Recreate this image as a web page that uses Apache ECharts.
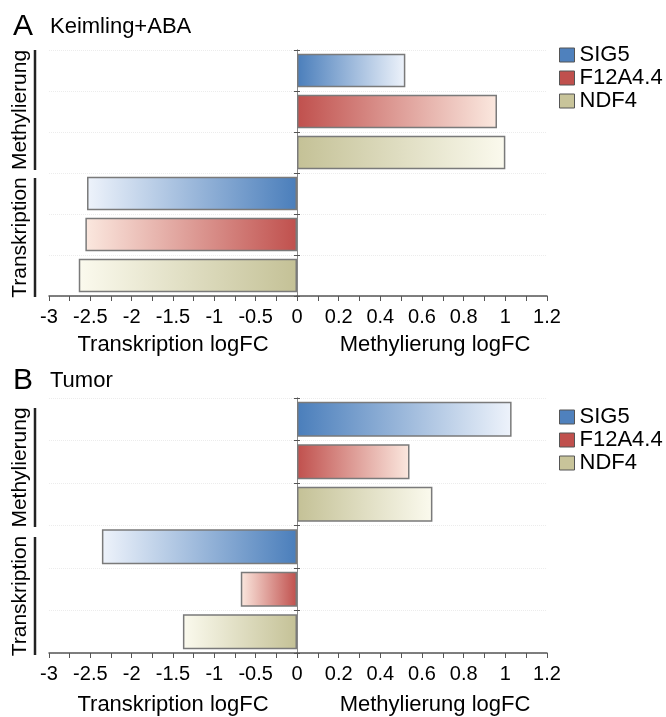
<!DOCTYPE html>
<html>
<head>
<meta charset="utf-8">
<script src="https://cdn.jsdelivr.net/npm/echarts@6/dist/echarts.min.js"></script>
<style>
html,body{margin:0;padding:0;background:#fff;}
#chart{width:666px;height:717px;}
</style>
</head>
<body>
<div id="chart"></div>
<script>
// ---- data ----
const genes = ['SIG5', 'F12A4.4', 'NDF4'];
const groups = ['Methylierung', 'Transkription'];
const panelLetters = ['A', 'B'];
const panelTitles = ['Keimling+ABA', 'Tumor'];
const methA = [0.52, 0.96, 1.00];
const transA = [-2.54, -2.56, -2.64];
const methB = [1.03, 0.54, 0.65];
const transB = [-2.36, -0.68, -1.38];
const transRange = [-3, 0];   // tick step 0.5
const methRange = [0, 1.2];   // tick step 0.2
const transAxisName = 'Transkription logFC';
const methAxisName = 'Methylierung logFC';

// ---- styles ----
const FONT = '"Liberation Sans", Arial, sans-serif';
const satColors = ['#4a7ebb', '#c0504d', '#c4c196'];
const lightColors = ['#eef3fb', '#fbe8df', '#fbfaee'];
const legendColors = ['#4f81bd', '#c0504d', '#c8c49a'];

// ---- layout ----
const layout = [
  {top: 50, height: 246, letterY: 27, legendTop: 44, nameGap: 38,
   brackets: [[50, 170], [178, 297]]},
  {top: 398, height: 257, letterY: 381, legendTop: 406, nameGap: 41,
   brackets: [[408, 527], [537, 655]]}
];
const leftX = 49, zeroX = 297, rightX = 547;

const rows = [];
groups.forEach(g => genes.forEach(n => rows.push(g + ' ' + n)));

const grids = [], xAxes = [], yAxes = [], series = [], legends = [], graphics = [];

function grad(i, reverse) {
  const stops = reverse
    ? [{offset: 0, color: lightColors[i]}, {offset: 1, color: satColors[i]}]
    : [{offset: 0, color: satColors[i]}, {offset: 1, color: lightColors[i]}];
  return {type: 'linear', x: 0, y: 0, x2: 1, y2: 0, colorStops: stops};
}

const panelData = [[methA, transA], [methB, transB]];

layout.forEach((L, p) => {
  grids.push({left: leftX, top: L.top, width: zeroX - leftX, height: L.height});
  grids.push({left: zeroX, top: L.top, width: rightX - zeroX, height: L.height});
  const axisCommon = {
    type: 'value',
    axisLine: {show: true, lineStyle: {color: '#555', width: 1.5}},
    axisTick: {show: true, length: 5, lineStyle: {color: '#555', width: 1}},
    minorTick: {show: true, splitNumber: 2, length: 5, lineStyle: {color: '#555', width: 1}},
    splitLine: {show: false},
    axisLabel: {color: '#000', fontSize: 20, fontFamily: FONT, margin: 11},
    nameLocation: 'middle',
    nameGap: L.nameGap,
    nameTextStyle: {color: '#000', fontSize: 22, fontFamily: FONT}
  };
  xAxes.push(Object.assign({}, axisCommon, {
    gridIndex: 2 * p, min: transRange[0], max: transRange[1], interval: 0.5,
    name: transAxisName
  }));
  xAxes.push(Object.assign({}, axisCommon, {
    gridIndex: 2 * p + 1, min: methRange[0], max: methRange[1], interval: 0.2,
    name: methAxisName,
    axisLabel: Object.assign({}, axisCommon.axisLabel, {formatter: v => (v === 0 ? '' : String(+v.toFixed(1)))}),
    nameTextStyle: Object.assign({}, axisCommon.nameTextStyle, {padding: [0, 0, 0, 26]})
  }));
  const yCommon = {
    type: 'category', data: rows, inverse: true,
    axisLine: {show: true, lineStyle: {color: '#888', width: 1}},
    axisTick: {show: true, length: 3, lineStyle: {color: '#555'}},
    axisLabel: {show: false},
    splitLine: {show: true, lineStyle: {color: '#ececec', width: 1, type: 'dotted'}}
  };
  yAxes.push(Object.assign({}, yCommon, {gridIndex: 2 * p, position: 'right'}));
  yAxes.push(Object.assign({}, yCommon, {gridIndex: 2 * p + 1, position: 'left'}));

  const [meth, trans] = panelData[p];
  genes.forEach((g, i) => {
    const dR = rows.map(() => '-');
    dR[i] = {value: meth[i], itemStyle: {color: grad(i, false)}};
    series.push({
      name: g, type: 'bar', xAxisIndex: 2 * p + 1, yAxisIndex: 2 * p + 1,
      stack: 'm' + p, barCategoryGap: '18%', data: dR,
      itemStyle: {color: legendColors[i], borderColor: '#7a7a7a', borderWidth: 1.5},
      emphasis: {disabled: true}, silent: true
    });
    const dL = rows.map(() => '-');
    dL[3 + i] = {value: trans[i], itemStyle: {color: grad(i, true)}};
    series.push({
      name: g, type: 'bar', xAxisIndex: 2 * p, yAxisIndex: 2 * p,
      stack: 't' + p, barCategoryGap: '18%', data: dL,
      itemStyle: {color: legendColors[i], borderColor: '#7a7a7a', borderWidth: 1.5},
      emphasis: {disabled: true}, silent: true
    });
  });

  legends.push({
    orient: 'vertical', left: 559, top: L.legendTop, padding: 0,
    itemWidth: 15, itemHeight: 14, itemGap: 1, icon: 'rect',
    selectedMode: false,
    textStyle: {color: '#000', fontSize: 22, fontFamily: FONT, padding: [0, 0, 0, 0]},
    data: genes.map((g, i) => ({name: g, itemStyle: {color: legendColors[i], borderColor: '#555', borderWidth: 1}}))
  });

  graphics.push({type: 'text', x: 13, y: L.letterY,
    style: {text: panelLetters[p], fontSize: 30, fontFamily: FONT, fill: '#000', verticalAlign: 'middle'}});
  graphics.push({type: 'text', x: 50, y: L.letterY,
    style: {text: panelTitles[p], fontSize: 22, fontFamily: FONT, fill: '#000', verticalAlign: 'middle'}});
  L.brackets.forEach((b, k) => {
    graphics.push({type: 'line', shape: {x1: 35, y1: b[0], x2: 35, y2: b[1]},
      style: {stroke: '#222', lineWidth: 2.5}});
    graphics.push({type: 'text', x: 20.5, y: (b[0] + b[1]) / 2, rotation: Math.PI / 2,
      style: {text: groups[k], fontSize: 21, fontFamily: FONT, fill: '#000', align: 'center', verticalAlign: 'middle'}});
  });
});

const chart = echarts.init(document.getElementById('chart'), null, {renderer: 'canvas'});
chart.setOption({
  animation: false,
  backgroundColor: '#fff',
  grid: grids, xAxis: xAxes, yAxis: yAxes, series: series, legend: legends,
  graphic: graphics
});
</script>
</body>
</html>
